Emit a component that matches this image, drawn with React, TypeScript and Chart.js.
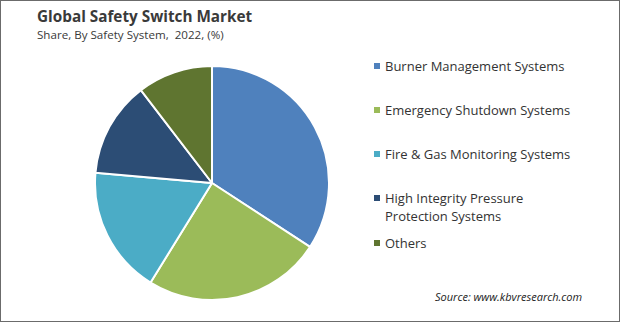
import React, { useEffect, useRef } from "react";
import { Chart, registerables } from "chart.js";

Chart.register(...registerables);

const categories = [
  "Burner Management Systems",
  "Emergency Shutdown Systems",
  "Fire & Gas Monitoring Systems",
  "High Integrity Pressure Protection Systems",
  "Others",
];
const legendLines = [
  ["Burner Management Systems"],
  ["Emergency Shutdown Systems"],
  ["Fire & Gas Monitoring Systems"],
  ["High Integrity Pressure", "Protection Systems"],
  ["Others"],
];
const shares = [34.2, 24.6, 17.6, 13.2, 10.4];
const colors = ["#4F81BD", "#9BBB59", "#4BACC6", "#2C4D75", "#5F7530"];

const FONT = "'Open Sans', 'Liberation Sans', sans-serif";

export default function App() {
  const ref = useRef<HTMLCanvasElement | null>(null);

  useEffect(() => {
    if (!ref.current) return;
    const chart = new Chart(ref.current, {
      type: "pie",
      data: {
        labels: categories,
        datasets: [
          {
            data: shares,
            backgroundColor: colors,
            borderColor: "#ffffff",
            borderWidth: 2,
          },
        ],
      },
      options: {
        responsive: false,
        animation: false,
        maintainAspectRatio: false,
        layout: { padding: 0 },
        plugins: {
          legend: { display: false },
          tooltip: { enabled: false },
          title: { display: false },
        },
      },
    });
    return () => chart.destroy();
  }, []);

  const legendTops = [65, 109, 153, 197, 242];

  return (
    <div
      style={{
        position: "fixed",
        left: 0,
        top: 0,
        width: 620,
        height: 322,
        boxSizing: "border-box",
        border: "1px solid #6b6b6b",
        background: "#ffffff",
        fontFamily: FONT,
        color: "#333333",
        overflow: "hidden",
      }}
    >
      <div
        style={{
          position: "absolute",
          left: 36,
          top: 4,
          fontSize: 15.3,
          fontWeight: 700,
          lineHeight: "22px",
          whiteSpace: "nowrap",
          color: "#3a3a3a",
        }}
      >
        Global Safety Switch Market
      </div>
      <div
        style={{
          position: "absolute",
          left: 36,
          top: 25,
          fontSize: 11.6,
          lineHeight: "18px",
          whiteSpace: "nowrap",
          color: "#3a3a3a",
        }}
      >
        Share, By Safety System,&nbsp; 2022, (%)
      </div>
      <canvas
        ref={ref}
        width={236}
        height={236}
        style={{ position: "absolute", left: 93, top: 64, width: 236, height: 236 }}
      />
      {legendLines.map((lines, i) => (
        <div key={i}>
          <div
            style={{
              position: "absolute",
              left: 373,
              top: legendTops[i] - 3,
              width: 6,
              height: 6,
              background: colors[i],
            }}
          />
          {lines.map((t, j) => (
            <div
              key={j}
              style={{
                position: "absolute",
                left: 384,
                top: legendTops[i] - 9 + j * 18,
                fontSize: 13,
                lineHeight: "18px",
                whiteSpace: "nowrap",
                color: "#333333",
              }}
            >
              {t}
            </div>
          ))}
        </div>
      ))}
      <div
        style={{
          position: "absolute",
          left: 434,
          top: 288,
          fontSize: 11,
          fontStyle: "italic",
          lineHeight: "16px",
          whiteSpace: "nowrap",
          color: "#222222",
        }}
      >
        Source: www.kbvresearch.com
      </div>
    </div>
  );
}
